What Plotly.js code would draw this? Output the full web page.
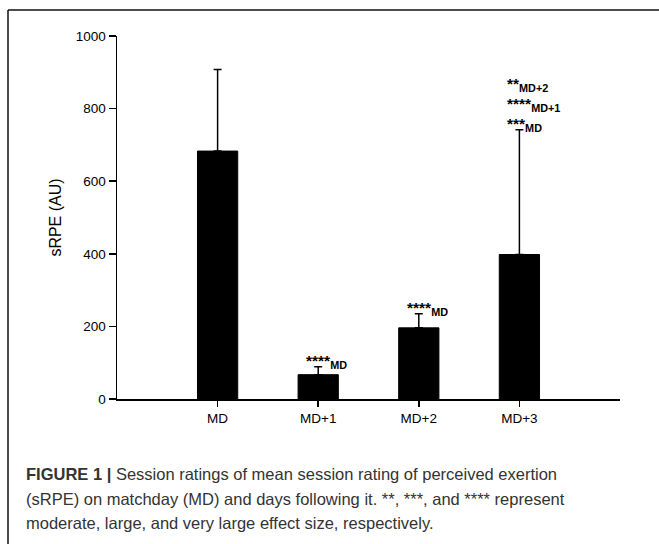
<!DOCTYPE html>
<html>
<head>
<meta charset="utf-8">
<script src="https://cdn.plot.ly/plotly-3.0.1.min.js"></script>
<style>
html,body{margin:0;padding:0;background:#fff;}
#chart{width:659px;height:544px;}
</style>
</head>
<body>
<div id="chart"></div>
<script>
const categories = ["MD", "MD+1", "MD+2", "MD+3"];
const means = [683, 67, 196, 398];
const sdUpper = [225, 22, 39, 344];
const sigLabels = [
  [],
  ["****<sub>MD</sub>"],
  ["****<sub>MD</sub>"],
  ["***<sub>MD</sub>", "****<sub>MD+1</sub>", "**<sub>MD+2</sub>"]
];
const yTicks = [0, 200, 400, 600, 800, 1000];
const yTitle = "sRPE (AU)";
const captionBold = "FIGURE 1 |";
const captionLines = [
  " Session ratings of mean session rating of perceived exertion",
  "(sRPE) on matchday (MD) and days following it. **, ***, and **** represent",
  "moderate, large, and very large effect size, respectively."
];

const font = "Liberation Sans, Arial, sans-serif";

const trace = {
  type: "bar",
  x: categories,
  y: means,
  width: 0.4,
  marker: {color: "#000", line: {color: "#000", width: 1}},
  error_y: {type: "data", array: sdUpper, arrayminus: categories.map(() => 0),
            symmetric: false, color: "#000", thickness: 1.5, width: 4},
  hoverinfo: "none"
};

const annotations = [];
sigLabels.forEach((labels, i) => {
  labels.forEach((t, j) => {
    annotations.push({
      x: i, y: means[i] + sdUpper[i],
      xref: "x", yref: "y",
      text: "<b>" + t + "</b>", showarrow: false,
      xanchor: "left", yanchor: "bottom",
      xshift: -14, yshift: -6 + j * 20,
      font: {family: font, size: 15.5, color: "#000"}
    });
  });
});

// caption
const toPaperY = py => (399 - py) / 363;
const toPaperX = px => (px - 117) / 503;
const capFont = {family: font, size: 16.5, color: "#333"};
annotations.push({
  xref: "paper", yref: "paper",
  x: toPaperX(24), y: toPaperY(474),
  xanchor: "left", yanchor: "middle", align: "left", showarrow: false,
  text: "<b>" + captionBold + "</b>" + captionLines[0],
  font: capFont
});
annotations.push({
  xref: "paper", yref: "paper",
  x: toPaperX(24), y: toPaperY(499),
  xanchor: "left", yanchor: "middle", align: "left", showarrow: false,
  text: captionLines[1],
  font: capFont
});
annotations.push({
  xref: "paper", yref: "paper",
  x: toPaperX(24), y: toPaperY(523),
  xanchor: "left", yanchor: "middle", align: "left", showarrow: false,
  text: captionLines[2],
  font: capFont
});

const layout = {
  width: 659, height: 544,
  margin: {l: 117, r: 39, t: 36, b: 145},
  paper_bgcolor: "#fff", plot_bgcolor: "#fff",
  showlegend: false,
  font: {family: font, size: 13.5, color: "#000"},
  xaxis: {
    type: "category", range: [-1, 4],
    showline: true, linecolor: "#000", linewidth: 1.5,
    ticks: "outside", ticklen: 6, tickcolor: "#000", tickwidth: 1.5,
    showgrid: false, zeroline: false,
    tickfont: {family: font, size: 13.5, color: "#000"}
  },
  yaxis: {
    range: [0, 1000], tickvals: yTicks,
    showline: true, linecolor: "#000", linewidth: 1.5,
    ticks: "outside", ticklen: 7, tickcolor: "#000", tickwidth: 1.5,
    showgrid: false, zeroline: false,
    tickfont: {family: font, size: 13.5, color: "#000"},
    title: {text: yTitle, font: {family: font, size: 16, color: "#000"}, standoff: 10}
  },
  shapes: [
    {type: "line", xref: "paper", yref: "paper",
     x0: toPaperX(8), x1: toPaperX(670), y0: toPaperY(10), y1: toPaperY(10),
     line: {color: "#111", width: 1.5}},
    {type: "line", xref: "paper", yref: "paper",
     x0: toPaperX(8), x1: toPaperX(8), y0: toPaperY(10), y1: toPaperY(560),
     line: {color: "#111", width: 1.5}}
  ],
  annotations: annotations
};

Plotly.newPlot("chart", [trace], layout, {staticPlot: true, displayModeBar: false});
</script>
</body>
</html>
